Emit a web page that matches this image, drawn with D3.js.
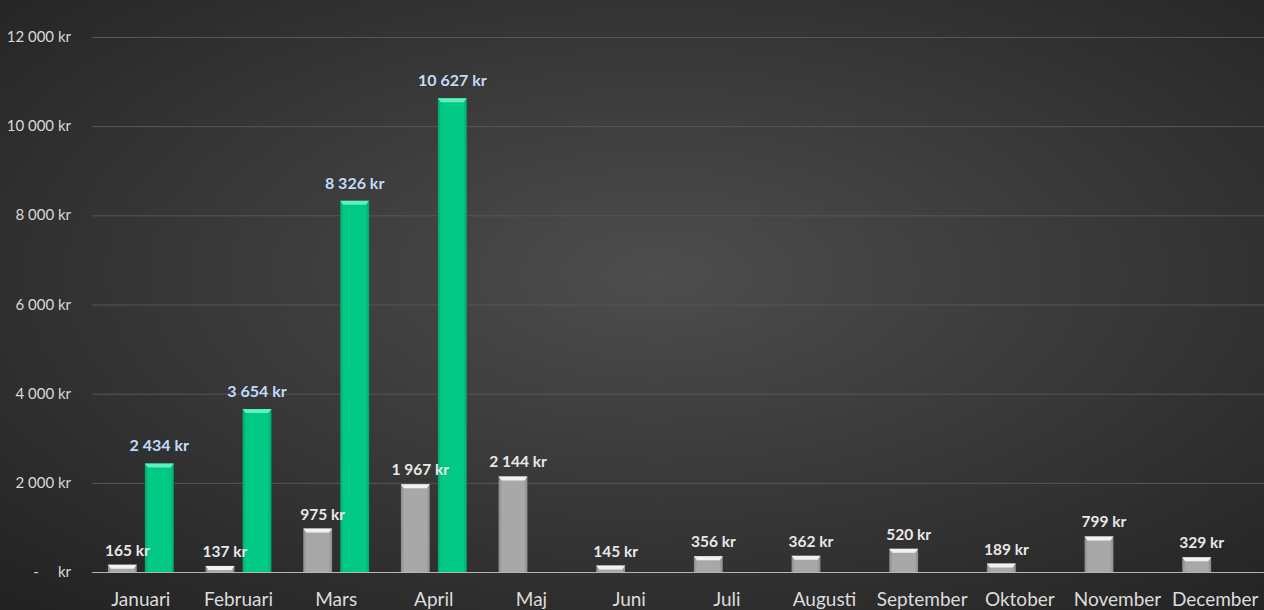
<!DOCTYPE html>
<meta charset="utf-8">
<script src="https://d3js.org/d3.v7.min.js"></script>
<style>
  html, body { margin: 0; padding: 0; background: #2b2b2b; }
  svg { display: block; font-family: Lato, "Noto Sans", sans-serif; }
  .grid line { stroke: #575757; stroke-width: 1; }
  .ytick { fill: #d9d9d9; font-size: 15px; }
  .month { fill: #dcdcdc; font-size: 19px; }
  .lblGrey { fill: #e8e8e8; font-size: 15.5px; font-weight: 700; }
  .lblGreen { fill: #c6dbf3; font-size: 16px; font-weight: 700; }
</style>
<body>
<div id="chart"></div>
<script>
var months = ["Januari", "Februari", "Mars", "April", "Maj", "Juni", "Juli",
              "Augusti", "September", "Oktober", "November", "December"];
var greyValues = [165, 137, 975, 1967, 2144, 145, 356, 362, 520, 189, 799, 329];
var greenValues = [2434, 3654, 8326, 10627, null, null, null, null, null, null, null, null];
var yTicks = [0, 2000, 4000, 6000, 8000, 10000, 12000];

var width = 1264, height = 610;
var margin = {top: 37, right: 0, bottom: 38, left: 92};

var svg = d3.select("#chart").append("svg")
  .attr("width", width)
  .attr("height", height);

var defs = svg.append("defs");
var bg = defs.append("radialGradient").attr("id", "bg")
  .attr("cx", "52%").attr("cy", "45%").attr("r", "75%");
bg.append("stop").attr("offset", "0%").attr("stop-color", "#4d4d4d");
bg.append("stop").attr("offset", "100%").attr("stop-color", "#222222");

var gGreen = defs.append("linearGradient").attr("id", "gGreen")
  .attr("x1", 0).attr("x2", 1).attr("y1", 0).attr("y2", 0);
gGreen.append("stop").attr("offset", "0%").attr("stop-color", "#00a86c");
gGreen.append("stop").attr("offset", "12%").attr("stop-color", "#00c985");
gGreen.append("stop").attr("offset", "88%").attr("stop-color", "#00c985");
gGreen.append("stop").attr("offset", "100%").attr("stop-color", "#00a86c");

var gGrey = defs.append("linearGradient").attr("id", "gGrey")
  .attr("x1", 0).attr("x2", 1).attr("y1", 0).attr("y2", 0);
gGrey.append("stop").attr("offset", "0%").attr("stop-color", "#8c8c8c");
gGrey.append("stop").attr("offset", "12%").attr("stop-color", "#a8a8a8");
gGrey.append("stop").attr("offset", "88%").attr("stop-color", "#a8a8a8");
gGrey.append("stop").attr("offset", "100%").attr("stop-color", "#8c8c8c");

svg.append("rect").attr("width", width).attr("height", height).attr("fill", "url(#bg)");

var x0 = d3.scaleBand()
  .domain(months)
  .range([margin.left, width - margin.right]);

var x1 = d3.scaleBand()
  .domain(["grey", "green"])
  .range([0, x0.bandwidth()])
  .paddingInner(0.22)
  .paddingOuter(0.43);

var y = d3.scaleLinear()
  .domain([0, 12000])
  .range([height - margin.bottom, margin.top]);

// gridlines
svg.append("g").attr("class", "grid")
  .selectAll("line")
  .data(yTicks.filter(d => d > 0))
  .enter().append("line")
  .attr("x1", margin.left).attr("x2", width)
  .attr("y1", d => y(d) + 0.5).attr("y2", d => y(d) + 0.5);

// y tick labels
var fmt = function(d) {
  if (d === 0) return "-\u00a0\u00a0\u00a0\u00a0\u00a0kr";
  return d3.format(",")(d).replace(/,/g, "\u00a0") + " kr";
};
svg.append("g").selectAll("text")
  .data(yTicks)
  .enter().append("text")
  .attr("class", "ytick")
  .attr("x", 71)
  .attr("y", d => y(d) + 5)
  .attr("text-anchor", "end")
  .text(fmt);

function drawBars(values, key, fill, top) {
  var data = months.map((m, i) => ({m: m, v: values[i]})).filter(d => d.v != null);
  var g = svg.append("g");
  g.selectAll("rect.bar")
    .data(data)
    .enter().append("rect")
    .attr("class", "bar")
    .attr("x", d => x0(d.m) + x1(key))
    .attr("width", x1.bandwidth())
    .attr("y", d => y(d.v))
    .attr("height", d => y(0) - y(d.v))
    .attr("fill", fill);
  // bevel on top
  g.selectAll("path.bevel")
    .data(data)
    .enter().append("path")
    .attr("class", "bevel")
    .attr("d", function(d) {
      var xl = x0(d.m) + x1(key), xr = xl + x1.bandwidth(), yt = y(d.v);
      var h = Math.min(4, y(0) - yt);
      return "M" + xl + "," + yt + "L" + xr + "," + yt + "L" + (xr - 3) + "," + (yt + h) +
             "L" + (xl + 3) + "," + (yt + h) + "Z";
    })
    .attr("fill", top);
  return data;
}

var greyData = drawBars(greyValues, "grey", "url(#gGrey)", "#f2f2f2");
var greenData = drawBars(greenValues, "green", "url(#gGreen)", "#5ff0c0");

// x axis line
svg.append("line")
  .attr("x1", margin.left).attr("x2", width)
  .attr("y1", y(0) + 0.5).attr("y2", y(0) + 0.5)
  .attr("stroke", "#b5b5b5").attr("stroke-width", 1);

// month labels
svg.append("g").selectAll("text")
  .data(months)
  .enter().append("text")
  .attr("class", "month")
  .attr("x", d => x0(d) + x0.bandwidth() / 2)
  .attr("y", 606)
  .attr("text-anchor", "middle")
  .text(d => d);

var lblFmt = d => d3.format(",")(d).replace(/,/g, "\u00a0") + " kr";

// data labels
svg.append("g").selectAll("text")
  .data(greyData)
  .enter().append("text")
  .attr("class", "lblGrey")
  .attr("x", d => x0(d.m) + x1("grey") + x1.bandwidth() / 2 + 5)
  .attr("y", d => y(d.v) - 9)
  .attr("text-anchor", "middle")
  .text(d => lblFmt(d.v));

svg.append("g").selectAll("text")
  .data(greenData)
  .enter().append("text")
  .attr("class", "lblGreen")
  .attr("x", d => x0(d.m) + x1("green") + x1.bandwidth() / 2)
  .attr("y", d => y(d.v) - 12)
  .attr("text-anchor", "middle")
  .attr("stroke", "#2a3a4a")
  .attr("stroke-width", 0.6)
  .attr("paint-order", "stroke")
  .text(d => lblFmt(d.v));
</script>
</body>
